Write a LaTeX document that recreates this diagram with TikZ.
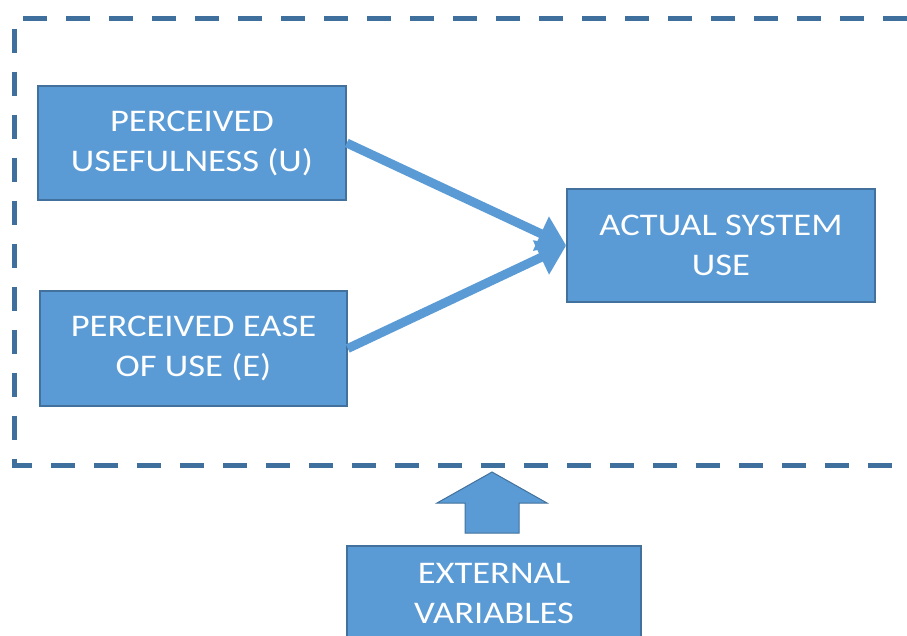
\documentclass[tikz,border=0pt]{standalone}
\usepackage{fontspec}
\setmainfont{Carlito}[FakeStretch=1.16]
\usetikzlibrary{arrows.meta}
\definecolor{boxfill}{HTML}{5B9BD5}
\definecolor{boxline}{HTML}{41719C}
\definecolor{dashline}{HTML}{3F6F9D}
\begin{document}
\begin{tikzpicture}[x=1pt,y=-1pt,
  tambox/.style={draw=boxline, fill=boxfill, line width=1.5pt, inner sep=0pt,
    text=white, align=center, font=\fontsize{31.5}{40}\selectfont},
  tamarrow/.style={draw=boxfill, line width=9pt,
    -{Triangle[length=28pt,width=36pt]}}]
\useasboundingbox (0,0) rectangle (907,635);
\clip (0,0) rectangle (907,635);
% dashed frame
\draw[dashline, line width=5pt, dash pattern=on 24pt off 19pt]
  (950,18) -- (14.5,18) -- (14.5,465) -- (950,465);
% boxes
\node[tambox, minimum width=308pt, minimum height=114pt] (U) at (192,143)
  {PERCEIVED\\USEFULNESS (U)};
\node[tambox, minimum width=307pt, minimum height=115pt] (E) at (193.5,348.5)
  {PERCEIVED EASE\\OF USE (E)};
\node[tambox, minimum width=308pt, minimum height=113pt] (A) at (721,245.5)
  {ACTUAL SYSTEM\\USE};
\node[tambox, minimum width=294pt, minimum height=94pt] (X) at (494,593)
  {EXTERNAL\\VARIABLES};
% arrows
\draw[tamarrow] (U.east) -- (A.west);
\draw[tamarrow] (E.east) -- (A.west);
% block arrow from external variables up to the frame
\coordinate (tip) at (492,472);
\draw[boxline, fill=boxfill, line width=1pt]
  (tip) -- (547,503) -- (519,503) -- (519,533) -- (465,533) -- (465,503) -- (437,503) -- cycle;
\end{tikzpicture}
\end{document}
